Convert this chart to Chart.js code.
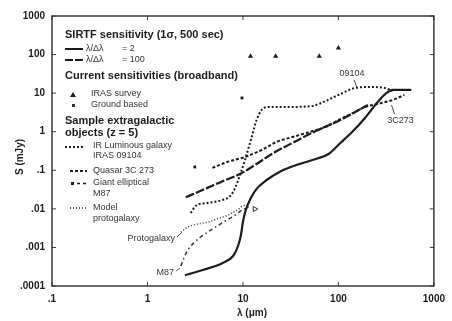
<!DOCTYPE html>
<html>
<head>
<meta charset="utf-8">
<script src="https://cdn.jsdelivr.net/npm/chart.js@4/dist/chart.umd.min.js"></script>
<style>
  html, body { margin: 0; padding: 0; background: #fff; }
</style>
</head>
<body>
<canvas id="sirtfChart" width="452" height="321"></canvas>
<script>
// axis decades and their printed labels
const xTicks = [0.1, 1, 10, 100, 1000];
const xTickLabels = ['.1', '1', '10', '100', '1000'];
const yTicks = [0.0001, 0.001, 0.01, 0.1, 1, 10, 100, 1000];
const yTickLabels = ['.0001', '.001', '.01', '.1', '1', '10', '100', '1000'];

// SIRTF sensitivity (1 sigma, 500 s), lambda/dlambda = 2   [um, mJy]
const lamR2 = [2.47, 3.78, 6.08, 7.89, 8.88, 9.53, 10.0, 10.7, 12.1, 13.9, 17.7, 25.2, 36.1, 57.9, 78.9, 105, 139, 190, 258, 320, 369, 580];
const fluxR2 = [1.9e-4, 2.6e-4, 3.9e-4, 6.0e-4, 1.09e-3, 2.1e-3, 4.6e-3, 9.3e-3, 0.019, 0.033, 0.056, 0.096, 0.137, 0.196, 0.264, 0.51, 0.98, 2.27, 5.9, 10.1, 12.1, 12.1];

// SIRTF sensitivity, lambda/dlambda = 100
const lamR100 = [2.52, 4.25, 6.22, 9.31, 13.9, 20.9, 36.1, 57.9, 100, 150, 204];
const fluxR100 = [0.020, 0.035, 0.053, 0.080, 0.146, 0.281, 0.574, 1.04, 1.90, 3.25, 4.93];

// current broadband sensitivities
const lamIras = [12, 22, 63, 100];
const fluxIras = [90, 90, 90, 148];
const lamGround = [3.13, 9.77];
const fluxGround = [0.122, 7.5];

// sample objects at z = 5
const lamIrg = [2.84, 3.20, 4.25, 6.08, 7.35, 8.27, 9.31, 10.5, 12.1, 13.9, 15.7, 18.5, 28.4, 52.7, 73.5, 100, 150, 214, 305, 369];
const fluxIrg = [0.0078, 0.0119, 0.0142, 0.0170, 0.0215, 0.0347, 0.0755, 0.185, 0.61, 2.01, 3.66, 4.37, 4.37, 4.64, 6.25, 8.96, 13.6, 14.4, 13.6, 11.4];

const lamQso = [4.79, 6.84, 10.5, 15.7, 22.4, 36.1, 53.9, 73.5, 100, 136, 190, 258, 369, 491];
const fluxQso = [0.115, 0.164, 0.221, 0.336, 0.541, 0.774, 1.04, 1.33, 2.01, 2.88, 4.37, 5.24, 6.64, 8.96];

const lamM87 = [2.24, 2.41, 2.65, 3.05, 3.60, 4.46, 5.39, 6.52, 8.07, 9.77, 11.5];
const fluxM87 = [3.3e-4, 5.3e-4, 8.6e-4, 1.30e-3, 1.86e-3, 2.67e-3, 3.60e-3, 4.84e-3, 6.53e-3, 9.3e-3, 0.0112];
const lamM87End = [13.3];
const fluxM87End = [0.0099];

const lamProto = [2.24, 2.65, 3.36, 4.36, 5.66, 7.00, 8.67, 10.0, 11.3];
const fluxProto = [2.5e-3, 3.4e-3, 4.05e-3, 4.56e-3, 5.8e-3, 6.9e-3, 9.3e-3, 0.0119, 0.0126];

const pts = (xs, ys) => xs.map((x, i) => ({ x: x, y: ys[i] }));

const INK = '#1c1c1c';
const BOLD = 'bold 11px "Liberation Sans", Arial, sans-serif';
const SMALL = '9px "Liberation Sans", Arial, sans-serif';

// curve labels: text anchor and a short leader line, all in data units
const notes = [
  { text: '09104', x: 139, y: 33, align: 'center', from: [146, 21.9], to: [157, 13.6] },
  { text: '3C273', x: 446, y: 1.9, align: 'center', from: [360, 4.93], to: [387, 2.88] },
  { text: 'Protogalaxy', x: 1.94, y: 1.75e-3, align: 'right', from: [2.04, 1.86e-3], to: [2.30, 2.5e-3] },
  { text: 'M87', x: 1.90, y: 2.3e-4, align: 'right', from: [2.00, 2.45e-4], to: [2.19, 2.93e-4] }
];

function curve(data, dash, width, color) {
  return {
    data: data, showLine: true, pointRadius: 0, borderColor: color || INK,
    borderWidth: width, borderDash: dash, cubicInterpolationMode: 'monotone', fill: false
  };
}

// frame, inward decade ticks, axis titles, the key and the curve labels
const decorPlugin = {
  id: 'decor',
  afterDraw(chart) {
    const ctx = chart.ctx;
    const a = chart.chartArea;
    const xs = chart.scales.x, ys = chart.scales.y;
    ctx.save();

    ctx.strokeStyle = '#3a3a3a';
    ctx.lineWidth = 1.5;
    ctx.strokeRect(a.left, a.top, a.right - a.left, a.bottom - a.top);
    ctx.lineWidth = 1;
    xTicks.forEach(v => {
      const px = xs.getPixelForValue(v);
      ctx.beginPath();
      ctx.moveTo(px, a.bottom); ctx.lineTo(px, a.bottom - 4);
      ctx.moveTo(px, a.top); ctx.lineTo(px, a.top + 4);
      ctx.stroke();
    });
    yTicks.forEach(v => {
      const py = ys.getPixelForValue(v);
      ctx.beginPath();
      ctx.moveTo(a.left, py); ctx.lineTo(a.left + 4, py);
      ctx.moveTo(a.right, py); ctx.lineTo(a.right - 4, py);
      ctx.stroke();
    });

    ctx.fillStyle = INK;
    ctx.textBaseline = 'middle';
    ctx.font = 'bold 10px "Liberation Sans", Arial, sans-serif';
    ctx.textAlign = 'center';
    ctx.fillText('\u03bb (\u03bcm)', a.left + 200, a.bottom + 27);
    ctx.save();
    ctx.translate(20, a.top + 141);
    ctx.rotate(-Math.PI / 2);
    ctx.fillText('S (mJy)', 0, 0);
    ctx.restore();

    // key
    const kx = a.left + 13;
    const row = dy => a.top + dy;
    const sample = (x1, x2, y, dash, w) => {
      ctx.save();
      ctx.strokeStyle = INK;
      ctx.lineWidth = w;
      ctx.setLineDash(dash);
      ctx.beginPath(); ctx.moveTo(x1, y); ctx.lineTo(x2, y); ctx.stroke();
      ctx.restore();
    };
    const text = (s, x, y, font, color) => {
      ctx.font = font; ctx.fillStyle = color || INK; ctx.textAlign = 'left';
      ctx.fillText(s, x, y);
    };

    text('SIRTF sensitivity (1\u03c3, 500 sec)', kx, row(19), BOLD);
    sample(kx, kx + 18, row(33), [], 2);
    text('\u03bb/\u0394\u03bb', kx + 21, row(33), SMALL, '#333');
    text('= 2', kx + 57, row(33), SMALL, '#333');
    sample(kx, kx + 18, row(44), [8, 2], 2);
    text('\u03bb/\u0394\u03bb', kx + 21, row(44), SMALL, '#333');
    text('= 100', kx + 57, row(44), SMALL, '#333');

    text('Current sensitivities (broadband)', kx, row(60), BOLD);
    ctx.fillStyle = INK;
    ctx.beginPath();
    ctx.moveTo(kx + 8, row(76)); ctx.lineTo(kx + 11, row(81)); ctx.lineTo(kx + 5, row(81));
    ctx.fill();
    text('IRAS survey', kx + 26, row(78), SMALL, '#333');
    ctx.fillRect(kx + 7, row(88), 3, 3);
    text('Ground based', kx + 26, row(89), SMALL, '#333');

    text('Sample extragalactic', kx, row(105), BOLD);
    text('objects (z = 5)', kx, row(117), BOLD);
    sample(kx, kx + 19, row(131), [2, 2], 2);
    text('IR Luminous galaxy', kx + 28, row(130), SMALL, '#333');
    text('IRAS 09104', kx + 28, row(140), SMALL, '#333');
    sample(kx + 5, kx + 22, row(155), [3, 2], 2);
    text('Quasar 3C 273', kx + 28, row(155), SMALL, '#333');
    ctx.fillStyle = INK;
    ctx.fillRect(kx + 6, row(166), 3, 3);
    sample(kx + 12, kx + 22, row(167.5), [3, 3], 1.3);
    text('Giant elliptical', kx + 28, row(167), SMALL, '#333');
    text('M87', kx + 28, row(178), SMALL, '#333');
    sample(kx + 5, kx + 22, row(192), [1, 2], 1.5);
    text('Model', kx + 28, row(192), SMALL, '#333');
    text('protogalaxy', kx + 28, row(203), SMALL, '#333');

    // labels on the curves
    ctx.strokeStyle = '#333';
    ctx.lineWidth = 0.9;
    notes.forEach(n => {
      ctx.font = SMALL; ctx.fillStyle = '#333'; ctx.textAlign = n.align;
      ctx.fillText(n.text, xs.getPixelForValue(n.x), ys.getPixelForValue(n.y));
      ctx.beginPath();
      ctx.moveTo(xs.getPixelForValue(n.from[0]), ys.getPixelForValue(n.from[1]));
      ctx.lineTo(xs.getPixelForValue(n.to[0]), ys.getPixelForValue(n.to[1]));
      ctx.stroke();
    });
    ctx.restore();
  }
};

const ctx = document.getElementById('sirtfChart').getContext('2d');
const chart = new Chart(ctx, {
  type: 'scatter',
  data: {
    datasets: [
      curve(pts(lamR2, fluxR2), [], 2.2),
      curve(pts(lamR100, fluxR100), [9, 2], 2.2),
      curve(pts(lamIrg, fluxIrg), [2, 2], 2),
      curve(pts(lamQso, fluxQso), [3, 2], 2),
      curve(pts(lamM87, fluxM87), [4, 3, 1.5, 3], 1.5, '#333'),
      curve(pts(lamProto, fluxProto), [1, 2], 1.5, '#333'),
      {
        data: pts(lamM87End, fluxM87End), pointStyle: 'triangle', rotation: 90,
        pointRadius: 3, backgroundColor: '#fff', borderColor: '#333', borderWidth: 1
      },
      {
        data: pts(lamIras, fluxIras), pointStyle: 'triangle', pointRadius: 3,
        backgroundColor: INK, borderColor: INK, borderWidth: 0
      },
      {
        data: pts(lamGround, fluxGround), pointStyle: 'rect', pointRadius: 2,
        backgroundColor: INK, borderColor: INK, borderWidth: 0
      }
    ]
  },
  options: {
    responsive: false,
    animation: false,
    layout: { padding: { top: 16, right: 14, left: 0, bottom: 0 } },
    plugins: { legend: { display: false }, tooltip: { enabled: false } },
    scales: {
      x: {
        type: 'logarithmic', min: 0.1, max: 1000,
        afterBuildTicks: s => { s.ticks = xTicks.map(v => ({ value: v })); },
        afterFit: s => { s.height = 35; },
        ticks: {
          callback: v => xTickLabels[xTicks.indexOf(v)],
          autoSkip: false, maxRotation: 0, padding: 7, color: INK,
          font: { family: '"Liberation Sans", Arial, sans-serif', size: 10, weight: 'bold' }
        },
        grid: { display: false, drawTicks: false },
        border: { display: false }
      },
      y: {
        type: 'logarithmic', min: 0.0001, max: 1000,
        afterBuildTicks: s => { s.ticks = yTicks.map(v => ({ value: v })); },
        afterFit: s => { s.width = 52; },
        ticks: {
          callback: v => yTickLabels[yTicks.indexOf(v)],
          autoSkip: false, padding: 7, color: INK,
          font: { family: '"Liberation Sans", Arial, sans-serif', size: 10, weight: 'bold' }
        },
        grid: { display: false, drawTicks: false },
        border: { display: false }
      }
    }
  },
  plugins: [decorPlugin]
});
</script>
</body>
</html>
